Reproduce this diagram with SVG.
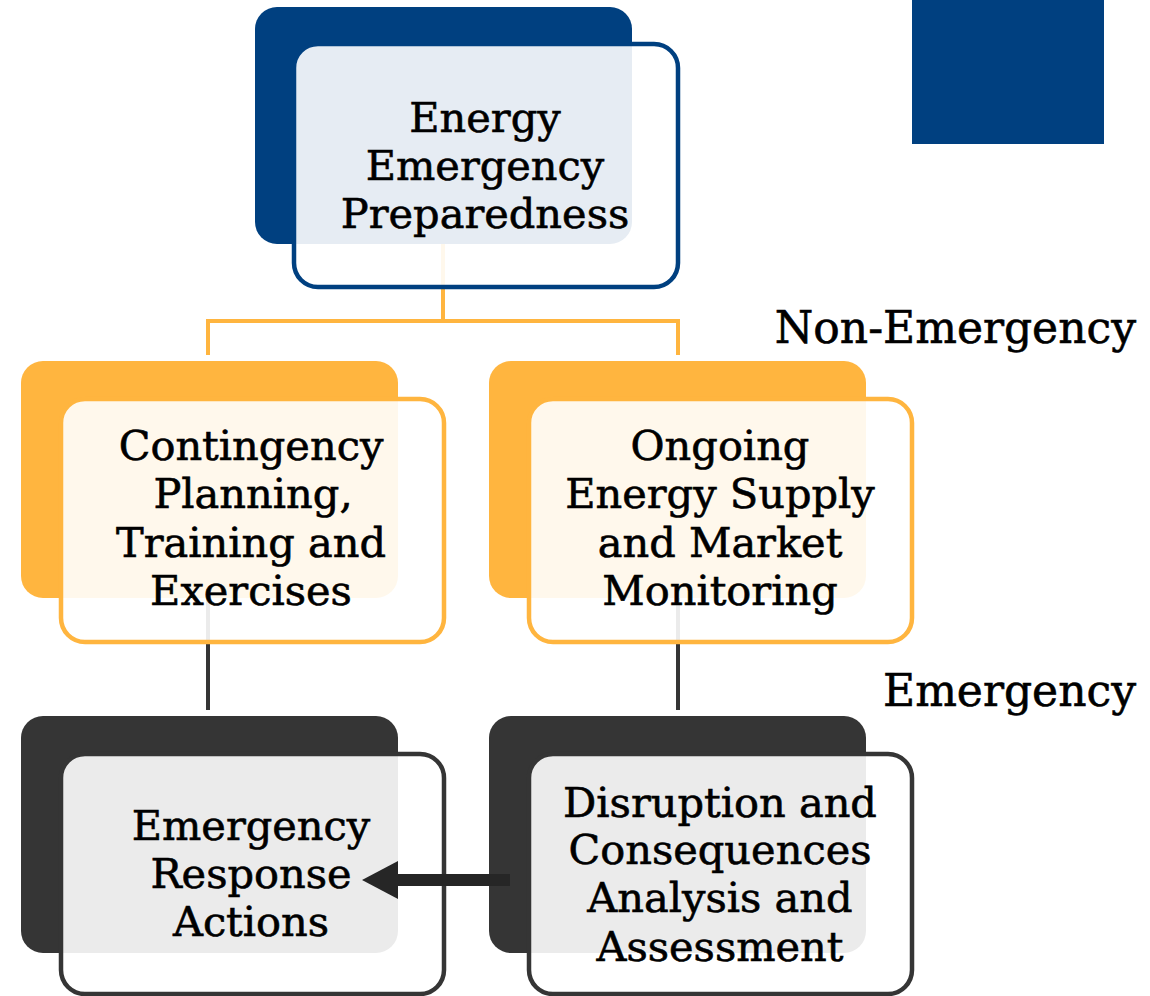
<svg xmlns="http://www.w3.org/2000/svg" width="1150" height="996" viewBox="0 0 1150 996">
  <style>
    .t { font-family: "DejaVu Serif", "Liberation Serif", serif; font-size: 41.5px; fill: #000; stroke: #000; stroke-width: 0.6; text-anchor: middle; }
    .lbl { font-family: "DejaVu Serif", "Liberation Serif", serif; font-size: 44px; fill: #000; stroke: #000; stroke-width: 0.6; text-anchor: end; }
    .front { fill: #ffffff; fill-opacity: 0.9; stroke-width: 4.5; }
    .blue-back { fill: #004080; }
    .blue-front { stroke: #004080; }
    .yel-back { fill: #FFB53F; }
    .yel-front { stroke: #FFB53F; }
    .dark-back { fill: #353535; }
    .dark-front { stroke: #353535; }
    .yline { stroke: #FFB53F; stroke-width: 4; fill: none; }
    .dline { stroke: #353535; stroke-width: 4; fill: none; }
  </style>
  <rect width="1150" height="996" fill="#ffffff"/>
  <g id="connectors">
    <path class="yline" d="M443,244 V321 M208,321 H678 M208,319 V355 M678,319 V355"/>
    <path class="dline" d="M208,598 V710 M678,598 V710"/>
  </g>
  <g id="accent-square">
    <rect x="912" y="0" width="192" height="144" fill="#004080"/>
  </g>
  <g id="node-preparedness">
    <rect class="blue-back" x="255" y="7" width="377" height="237" rx="22"/>
    <rect class="front blue-front" x="294" y="44" width="384" height="243" rx="24"/>
    <text class="t" x="485" y="132">Energy</text>
    <text class="t" x="485" y="180">Emergency</text>
    <text class="t" x="485" y="228">Preparedness</text>
  </g>
  <g id="node-contingency">
    <rect class="yel-back" x="21" y="361" width="377" height="237" rx="22"/>
    <rect class="front yel-front" x="61" y="399" width="383" height="243" rx="24"/>
    <text class="t" x="251" y="460">Contingency</text>
    <text class="t" x="253" y="508">Planning,</text>
    <text class="t" x="251" y="557">Training and</text>
    <text class="t" x="251" y="605">Exercises</text>
  </g>
  <g id="node-monitoring">
    <rect class="yel-back" x="489" y="361" width="377" height="237" rx="22"/>
    <rect class="front yel-front" x="529" y="399" width="383" height="243" rx="24"/>
    <text class="t" x="720" y="460">Ongoing</text>
    <text class="t" x="720" y="508">Energy Supply</text>
    <text class="t" x="720" y="557">and Market</text>
    <text class="t" x="720" y="605">Monitoring</text>
  </g>
  <g id="node-response">
    <rect class="dark-back" x="21" y="716" width="377" height="237" rx="22"/>
    <rect class="front dark-front" x="61" y="754" width="383" height="240" rx="24"/>
    <text class="t" x="251" y="840">Emergency</text>
    <text class="t" x="251" y="888">Response</text>
    <text class="t" x="251" y="936">Actions</text>
  </g>
  <g id="node-assessment">
    <rect class="dark-back" x="489" y="716" width="377" height="237" rx="22"/>
    <rect class="front dark-front" x="529" y="754" width="383" height="240" rx="24"/>
    <text class="t" x="720" y="817">Disruption and</text>
    <text class="t" x="720" y="864">Consequences</text>
    <text class="t" x="720" y="912">Analysis and</text>
    <text class="t" x="720" y="961">Assessment</text>
  </g>
  <g id="labels">
    <text class="lbl" x="1136" y="343">Non-Emergency</text>
    <text class="lbl" x="1136" y="706">Emergency</text>
  </g>
  <g id="connectors-front">
    <line x1="510" y1="880" x2="396" y2="880" stroke="#262626" stroke-width="12"/>
    <polygon points="362,880 398,861 398,899" fill="#262626"/>
  </g>
</svg>
